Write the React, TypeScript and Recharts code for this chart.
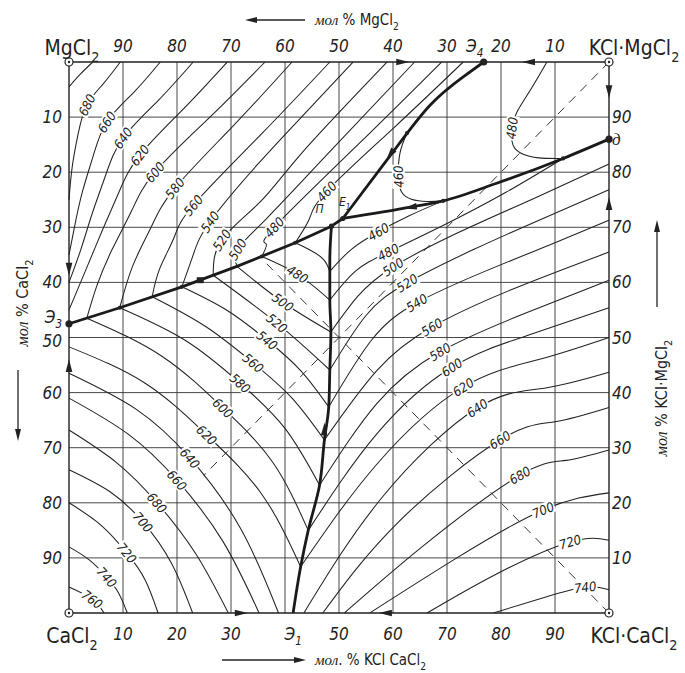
import React from 'react';
import { ComposedChart, Scatter, XAxis, YAxis, ReferenceLine } from 'recharts';

const CHART_W = 685;
const CHART_H = 673;
const AXIS_W = 40;
const AXIS_H = 30;
const MARGIN = { top: 32, right: 36, bottom: 30, left: 29 };
const PLOT_W = CHART_W - MARGIN.left - MARGIN.right - 2 * AXIS_W;
const PLOT_H = CHART_H - MARGIN.top - MARGIN.bottom - 2 * AXIS_H;
const KX = PLOT_W / 100;
const KY = PLOT_H / 100;
const FONT = "'DejaVu Sans Condensed', 'Liberation Sans Narrow', sans-serif";
const SERIF_IT = "'Liberation Serif', 'DejaVu Serif', serif";
const INK = '#222';

// ---------- axes ----------
const GRID_VALUES = [10, 20, 30, 40, 50, 60, 70, 80, 90];
const BOTTOM_TICKS = [10, 20, 30, 41.5, 50, 60, 70, 80, 90];
const BOTTOM_LABELS = ['10', '20', '30', 'Э1', '50', '60', '70', '80', '90'];
const TOP_TICKS = [10, 20, 30, 40, 50, 60, 70, 76.8, 80, 90];
const TOP_LABELS = ['90', '80', '70', '60', '50', '40', '30', 'Э4', '20', '10'];
const LEFT_TICKS = [10, 20, 30, 40, 47.5, 50, 60, 70, 80, 90];
const LEFT_LABELS = ['10', '20', '30', '40', 'Э3', '50', '60', '70', '80', '90'];
const RIGHT_TICKS = [10, 14, 20, 30, 40, 50, 60, 70, 80, 90];
const RIGHT_LABELS = ['90', 'д', '80', '70', '60', '50', '40', '30', '20', '10'];

// ---------- isotherms (x = mol % KCl·CaCl2 from left, y = mol % CaCl2 from top) ----------
type Iso = { t: number; label: number; pts: number[][] };

const ISO_MGCL2: Iso[] = [
  { t: 700, label: -1, pts: [[4.4, 0], [2.1, 2.2], [0, 4.5]] },
  { t: 680, label: 2, pts: [[9.5, 0], [6.3, 4], [3.3, 7.8], [1.7, 13], [0.6, 19], [0, 25]] },
  { t: 660, label: 2, pts: [[16.9, 0], [12, 5.5], [7, 10.9], [4.5, 17], [2.5, 23.5], [1, 30], [0, 35]] },
  { t: 640, label: 2, pts: [[23, 0], [16.5, 7], [10, 13.8], [6.8, 20.5], [4.3, 27.5], [2.2, 34], [0, 40]] },
  { t: 620, label: 2, pts: [[29.3, 0], [21.2, 8.5], [13.1, 16.9], [9.3, 23.5], [6.2, 30.5], [3, 38], [0, 45]] },
  { t: 600, label: 2, pts: [[36.3, 0], [26.1, 10], [15.9, 20], [11.6, 27], [8, 34], [5.2, 40.5], [3.3, 46.5]] },
  { t: 580, label: 2, pts: [[41.3, 0], [30.5, 11.5], [19.6, 22.9], [15.2, 30], [11.8, 37], [9.4, 44.6]] },
  { t: 560, label: 2, pts: [[48.3, 0], [35.7, 13], [23, 26], [19.4, 32], [16.8, 37.5], [15.4, 42.6]] },
  { t: 540, label: 3, pts: [[52.6, 0], [44, 9], [35, 18.5], [26.1, 29], [23, 35], [20.9, 40.8]] },
  { t: 520, label: 3, pts: [[58.9, 0], [43.3, 16.3], [35.4, 25.4], [28.3, 32.3], [26.7, 38.7]] },
  { t: 500, label: 3, pts: [[64, 0], [47.6, 17], [36.5, 28.5], [31.2, 34], [31.1, 37.1]] },
  { t: 480, label: 2, pts: [[69, 0], [53.5, 15], [38, 30], [36.5, 33], [35.7, 35.3]] },
  { t: 460, label: 2, pts: [[73, 0], [60.3, 11.8], [47.7, 23.5], [44.5, 28.5], [41.9, 32.8]] },
];

const ISO_CACL2: Iso[] = [
  { t: 460, label: -1, pts: [[41.9, 32.8], [44.8, 34.2], [47.2, 35.9], [48.3, 38]] },
  { t: 480, label: 1, pts: [[35.7, 35.3], [42.3, 38.5], [48.3, 43.2]] },
  { t: 500, label: 1, pts: [[31.1, 37.1], [39.6, 43.6], [48.5, 49]] },
  { t: 520, label: 1, pts: [[26.7, 38.7], [38.5, 47.4], [48.3, 55.9]] },
  { t: 540, label: 2, pts: [[20.9, 40.8], [29.3, 45.1], [36.7, 50.5], [42.9, 56], [48.1, 62.6]] },
  { t: 560, label: 2, pts: [[15.4, 42.6], [25.3, 48], [34.1, 54.6], [41.3, 61], [47.3, 68.6]] },
  { t: 580, label: 2, pts: [[9.4, 44.6], [21.5, 50.5], [31.7, 58.3], [40, 66.5], [46.4, 76.8]] },
  { t: 600, label: 2, pts: [[3.3, 46.5], [17.2, 53.4], [28.5, 62.8], [37.7, 72.6], [44.3, 85]] },
  { t: 620, label: 2, pts: [[0, 51.7], [14.1, 58.3], [25.5, 67.7], [35.6, 78.3], [42.9, 91.6]] },
  { t: 640, label: 2, pts: [[0, 56.5], [12.4, 63], [22.4, 71.9], [31.8, 84.7], [38.8, 100]] },
  { t: 660, label: 2, pts: [[0, 61], [10.9, 67.5], [20, 75.9], [28.5, 87], [35.2, 100]] },
  { t: 680, label: 2, pts: [[0, 66.8], [8.8, 72.7], [16.3, 80], [23.5, 89.3], [29.5, 100]] },
  { t: 700, label: 2, pts: [[0, 74], [7.6, 78], [13.7, 83.5], [19, 91], [22.9, 100]] },
  { t: 720, label: 2, pts: [[0, 80], [5.85, 84], [10.7, 89.1], [14.1, 94], [16.5, 100]] },
  { t: 740, label: 2, pts: [[0, 88], [3.8, 90.4], [7, 93.5], [9.2, 96.4], [10.8, 100]] },
  { t: 760, label: 1, pts: [[0, 95.3], [4.3, 97.5], [6.5, 100]] },
];

const ISO_KCACL3: Iso[] = [
  { t: 460, label: 2, pts: [[48.3, 38], [52.3, 34], [57.3, 30.8], [63, 27.9], [69.3, 25.2]] },
  { t: 480, label: 2, pts: [[48.3, 43.2], [53, 38], [59.1, 34.5], [70, 29.3], [81, 23.6], [91.5, 17.5]] },
  { t: 500, label: 2, pts: [[48.5, 49], [53.5, 42.5], [60, 37.2], [72, 31], [86, 24.8], [100, 18.5]] },
  { t: 520, label: 2, pts: [[48.3, 55.9], [55, 46], [62.6, 40.1], [75, 34], [88, 28.3], [100, 23.2]] },
  { t: 540, label: 2, pts: [[48.1, 62.6], [56, 50.5], [64.4, 43.7], [77, 38], [89, 33.2], [100, 28.7]] },
  { t: 560, label: 2, pts: [[47.3, 68.6], [57, 56], [67.2, 48.1], [82, 41.3], [100, 34.5]] },
  { t: 580, label: 2, pts: [[46.4, 76.8], [57, 62], [68.7, 52.6], [84, 45.8], [100, 39.6]] },
  { t: 600, label: 2, pts: [[44.3, 85], [57, 67.5], [70.9, 55.4], [85, 49.6], [100, 44.6]] },
  { t: 620, label: 2, pts: [[42.9, 91.6], [57, 73], [73, 59], [87, 54], [100, 50]] },
  { t: 640, label: 2, pts: [[43.5, 100], [58, 79], [75.6, 62.8], [88, 59.2], [100, 56.3]] },
  { t: 660, label: 2, pts: [[47, 100], [61, 83.5], [79.8, 68.6], [90, 65.3], [100, 62.7]] },
  { t: 680, label: 2, pts: [[51, 100], [66, 87.5], [83.5, 75], [92, 72.3], [100, 70.4]] },
  { t: 700, label: 2, pts: [[55.7, 100], [71, 90.5], [87.8, 81.3], [100, 78.2]] },
  { t: 720, label: 2, pts: [[66.3, 100], [79, 93], [92.8, 87.1], [100, 86.8]] },
  { t: 740, label: 2, pts: [[78.6, 100], [88, 97.2], [95.6, 95.3], [100, 95.8]] },
];

const ISO_KMGCL3: Iso[] = [
  { t: 460, label: 2, pts: [[62.6, 12.9], [61.3, 16.5], [61, 20.8], [61.6, 23.6], [63.4, 24.9], [66.3, 25.3], [69.3, 25.2]] },
  { t: 480, label: 3, pts: [[88.5, 0], [85.5, 5], [83, 9], [82, 12], [82.2, 15], [83.8, 16.6], [87, 17.4], [91.5, 17.5]] },
];

// ---------- boundary (bold) lines ----------
const LINE_E3_P = [[0, 47.5], [9.4, 44.6], [20.9, 40.8], [31.1, 37.1], [41.9, 32.8], [48.6, 29.8]];
const LINE_P_E1 = [[48.6, 29.8], [50.7, 28.4]];
const LINE_E1_E4 = [[50.7, 28.4], [59.8, 16.6], [66.9, 7.8], [73, 2.7], [76.8, 0]];
const LINE_E1_D = [[50.7, 28.4], [63.5, 26.3], [69.3, 25.2], [79.2, 22], [91.5, 17.5], [100, 14]];
const LINE_P_E1B = [[48.6, 29.8], [48.3, 36], [48.3, 43.2], [48.5, 49], [48.3, 55.9], [48.1, 62.6], [47.3, 68.6], [46.4, 76.8], [44.3, 85], [42.9, 91.6], [41.5, 100]];
const DASH_ANTI = [[100, 0], [25, 75]];
const DASH_DIAG = [[100, 100], [36.5, 36.5]];
const FRAME = [[0, 0], [100, 0], [100, 100], [0, 100], [0, 0]];

// ---------- points ----------
const EUTECTIC_POINTS = [{ x: 0, y: 47.5 }, { x: 76.8, y: 0 }, { x: 100, y: 14 }];
const INVARIANT_POINTS = [{ x: 48.6, y: 29.8, name: 'П' }, { x: 50.7, y: 28.4, name: 'E1' }];
const JUNCTIONS = [{ x: 9.4, y: 44.6 }, { x: 20.9, y: 40.8 }, { x: 35.7, y: 35.3 }, { x: 41.9, y: 32.8 }, { x: 69.3, y: 25.2 }, { x: 91.5, y: 17.5 }, { x: 62.6, y: 12.9 }];
const SQUARE_POINTS = [{ x: 24.3, y: 39.6 }];
const CORNERS = [
  { x: 0, y: 0, name: 'MgCl2' },
  { x: 100, y: 0, name: 'KCl·MgCl2' },
  { x: 0, y: 100, name: 'CaCl2' },
  { x: 100, y: 100, name: 'KCl·CaCl2' },
];
const ARROWS = [
  { x: 61.9, y: 0, tx: 76.8, ty: 0 },
  { x: 85, y: 0, tx: 76.8, ty: 0 },
  { x: 0, y: 37.7, tx: 0, ty: 47.5 },
  { x: 0, y: 55, tx: 0, ty: 47.5 },
  { x: 100, y: 5.5, tx: 100, ty: 14 },
  { x: 100, y: 25.6, tx: 100, ty: 14 },
  { x: 32, y: 100, tx: 41.5, ty: 100 },
  { x: 58.5, y: 100, tx: 41.5, ty: 100 },
  { x: 59.4, y: 16.9, tx: 50.7, ty: 28.4 },
  { x: 63.1, y: 26.4, tx: 50.7, ty: 28.4 },
  { x: 47.3, y: 66.5, tx: 48.3, ty: 36 },
];

// ---------- helpers ----------
const toXY = (pts: number[][]) => pts.map(([x, y]) => ({ x, y }));

const ALL_ISO = [...ISO_MGCL2, ...ISO_CACL2, ...ISO_KCACL3, ...ISO_KMGCL3];
const LABEL_DATA = ALL_ISO.filter((i) => i.label >= 0).map((i) => {
  const p = i.pts[i.label];
  const a = i.pts[Math.max(0, i.label - 1)];
  const b = i.pts[Math.min(i.pts.length - 1, i.label + 1)];
  let ang = (Math.atan2((b[1] - a[1]) * KY, (b[0] - a[0]) * KX) * 180) / Math.PI;
  if (ang > 80) ang -= 180;
  if (ang < -100) ang += 180;
  return { x: p[0], y: p[1], t: i.t, angle: ang };
});
const ARROW_DATA = ARROWS.map((a) => ({
  x: a.x,
  y: a.y,
  angle: (Math.atan2((a.ty - a.y) * KY, (a.tx - a.x) * KX) * 180) / Math.PI,
}));

function chem(s: string, fs: number) {
  const parts = s.split(/(\d+)/).filter((p) => p !== '');
  const out: any[] = [];
  let low = false;
  parts.forEach((p, i) => {
    if (/^\d+$/.test(p) && i > 0) {
      out.push(<tspan key={i} fontSize={fs * 0.68} dy={fs * 0.32}>{p}</tspan>);
      low = true;
    } else {
      out.push(<tspan key={i} dy={low ? -fs * 0.32 : 0}>{p}</tspan>);
      low = false;
    }
  });
  return out;
}

const NoShape = () => <g />;

const IsoLabelShape = (props: any) => {
  const { cx, cy } = props;
  const d = props.payload || props;
  const s = String(d.t);
  const w = s.length * 7.1 + 3;
  return (
    <g transform={`translate(${cx},${cy}) rotate(${d.angle})`}>
      <rect x={-w / 2} y={-6.5} width={w} height={13} fill="#fff" />
      <text x={0} y={4.8} textAnchor="middle" fontFamily={FONT} fontStyle="italic" fontSize={13} fill={INK}>{s}</text>
    </g>
  );
};

const ArrowShape = (props: any) => {
  const { cx, cy } = props;
  const d = props.payload || props;
  return (
    <g transform={`translate(${cx},${cy}) rotate(${d.angle})`}>
      <path d="M6,0 L-7,-3.3 L-7,3.3 Z" fill={INK} />
    </g>
  );
};

const BigDot = (props: any) => <circle cx={props.cx} cy={props.cy} r={3.6} fill={INK} />;
const SmallDot = (props: any) => <circle cx={props.cx} cy={props.cy} r={2.1} fill={INK} />;
const SquareShape = (props: any) => <rect x={props.cx - 3.5} y={props.cy - 3} width={7} height={6} fill={INK} />;

const InvariantShape = (props: any) => {
  const { cx, cy } = props;
  const d = props.payload || props;
  const off = d.name === 'П' ? [-12, -13] : [2, -12];
  return (
    <g>
      <circle cx={cx} cy={cy} r={2.6} fill={INK} />
      <text x={cx + off[0]} y={cy + off[1]} fontFamily={FONT} fontStyle="italic" fontSize={12} fill={INK} textAnchor="middle">
        {chem(d.name, 12)}
      </text>
    </g>
  );
};

const CornerShape = (props: any) => {
  const { cx, cy } = props;
  const d = props.payload || props;
  const right = d.x > 50;
  const bottom = d.y > 50;
  const tx = cx + (right ? 25 : 3);
  const ty = cy + (bottom ? 30 : -7);
  return (
    <g>
      <circle cx={cx} cy={cy} r={4} fill="#fff" stroke={INK} strokeWidth={1.2} />
      <circle cx={cx} cy={cy} r={1.2} fill={INK} />
      <text x={tx} y={ty} textAnchor="middle" fontFamily={FONT} fontSize={21} fill={INK}>{chem(d.name, 21)}</text>
    </g>
  );
};

const makeTick = (ticks: number[], labels: string[], side: string) => (props: any) => {
  const { x, y, payload } = props;
  const idx = ticks.findIndex((v) => Math.abs(v - payload.value) < 1e-6);
  const s = idx >= 0 ? labels[idx] : String(payload.value);
  let tx = x;
  let ty = y;
  let anchor = 'middle';
  if (side === 'b') ty = y + 19;
  if (side === 't') {
    ty = y - 2;
    if (s.startsWith('Э')) tx = x - 9;
  }
  if (side === 'l') {
    tx = x + 1;
    ty = y + 6;
    anchor = 'end';
    if (s.startsWith('Э')) ty = y - 1;
    if (s === '50') ty = y + 9;
  }
  if (side === 'r') {
    tx = x - 5;
    ty = y + 6;
    anchor = 'start';
  }
  const family = /^\d/.test(s) || s.startsWith('Э') ? FONT : SERIF_IT;
  return (
    <text x={tx} y={ty} textAnchor={anchor} fontFamily={family} fontStyle="italic" fontSize={17} fill={INK}>
      {chem(s, 17)}
    </text>
  );
};

const titleText = (rest: string, fs: number) => [
  <tspan key="m" fontStyle="italic" fontFamily={SERIF_IT} fontSize={fs}>{'мол'}</tspan>,
  ...chem(rest, fs),
];

const TopTitle = (props: any) => {
  const { x, y } = props.viewBox;
  const ay = y - 12;
  return (
    <g>
      <line x1={x + 182} y1={ay} x2={x + 236} y2={ay} stroke={INK} strokeWidth={1.3} />
      <path d={`M${x + 176},${ay} l12,-3 l0,6 z`} fill={INK} />
      <text x={x + 246} y={ay + 5} fontFamily={FONT} fontSize={15} fill={INK}>{titleText(' % MgCl2', 15)}</text>
    </g>
  );
};

const BottomTitle = (props: any) => {
  const { x, y } = props.viewBox;
  const ay = y + 47;
  return (
    <g>
      <line x1={x + 153} y1={ay} x2={x + 230} y2={ay} stroke={INK} strokeWidth={1.3} />
      <path d={`M${x + 237},${ay} l-12,-3 l0,6 z`} fill={INK} />
      <text x={x + 246} y={ay + 5} fontFamily={FONT} fontSize={15} fill={INK}>{titleText('. % KCl CaCl2', 15)}</text>
    </g>
  );
};

const LeftTitle = (props: any) => {
  const { x, y } = props.viewBox;
  const ax = x - 11;
  return (
    <g>
      <text transform={`translate(${x - 1},${y + 241}) rotate(-90)`} textAnchor="middle" fontFamily={FONT} fontSize={16} fill={INK}>
        {titleText(' % CaCl2', 16)}
      </text>
      <line x1={ax} y1={y + 308} x2={ax} y2={y + 372} stroke={INK} strokeWidth={1.3} />
      <path d={`M${ax},${y + 379} l-3,-12 l6,0 z`} fill={INK} />
    </g>
  );
};

const RightTitle = (props: any) => {
  const { x, y } = props.viewBox;
  const ax = x + 48;
  return (
    <g>
      <text transform={`translate(${x + 58},${y + 336}) rotate(-90)`} textAnchor="middle" fontFamily={FONT} fontSize={16} fill={INK}>
        {titleText(' % KCl·MgCl2', 16)}
      </text>
      <line x1={ax} y1={y + 245} x2={ax} y2={y + 165} stroke={INK} strokeWidth={1.3} />
      <path d={`M${ax},${y + 158} l-3,12 l6,0 z`} fill={INK} />
    </g>
  );
};

const lineSeries = (key: string, pts: number[][], stroke: any, joint: string) => (
  <Scatter
    key={key}
    data={toXY(pts)}
    xAxisId="b"
    yAxisId="l"
    line={stroke}
    lineJointType={joint as any}
    shape={NoShape}
    isAnimationActive={false}
  />
);

const THIN = { stroke: INK, strokeWidth: 1.05, fill: 'none' };
const BOLD = { stroke: '#1a1a1a', strokeWidth: 2.8, fill: 'none' };
const DASH = { stroke: '#333', strokeWidth: 1, strokeDasharray: '9 7', fill: 'none' };
const FRAME_STYLE = { stroke: INK, strokeWidth: 1.4, fill: 'none' };

export default function App() {
  return (
    <div style={{ position: 'absolute', left: 0, top: 0, width: CHART_W, height: CHART_H, background: '#fff' }}>
      <ComposedChart width={CHART_W} height={CHART_H} margin={MARGIN}>
        <XAxis
          xAxisId="b"
          dataKey="x"
          type="number"
          domain={[0, 100]}
          ticks={BOTTOM_TICKS}
          interval={0}
          orientation="bottom"
          height={AXIS_H}
          axisLine={false}
          tickLine={false}
          tick={makeTick(BOTTOM_TICKS, BOTTOM_LABELS, 'b')}
          label={BottomTitle}
        />
        <XAxis
          xAxisId="t"
          dataKey="x"
          type="number"
          domain={[0, 100]}
          ticks={TOP_TICKS}
          interval={0}
          orientation="top"
          height={AXIS_H}
          axisLine={false}
          tickLine={false}
          tick={makeTick(TOP_TICKS, TOP_LABELS, 't')}
          label={TopTitle}
        />
        <YAxis
          yAxisId="l"
          dataKey="y"
          type="number"
          domain={[0, 100]}
          reversed
          ticks={LEFT_TICKS}
          interval={0}
          orientation="left"
          width={AXIS_W}
          axisLine={false}
          tickLine={false}
          tick={makeTick(LEFT_TICKS, LEFT_LABELS, 'l')}
          label={LeftTitle}
        />
        <YAxis
          yAxisId="r"
          dataKey="y"
          type="number"
          domain={[0, 100]}
          reversed
          ticks={RIGHT_TICKS}
          interval={0}
          orientation="right"
          width={AXIS_W}
          axisLine={false}
          tickLine={false}
          tick={makeTick(RIGHT_TICKS, RIGHT_LABELS, 'r')}
          label={RightTitle}
        />
        <Scatter data={toXY(FRAME)} xAxisId="t" yAxisId="r" shape={NoShape} isAnimationActive={false} />
        {GRID_VALUES.map((v) => (
          <ReferenceLine key={'gx' + v} x={v} xAxisId="b" yAxisId="l" stroke="#333" strokeWidth={0.9} />
        ))}
        {GRID_VALUES.map((v) => (
          <ReferenceLine key={'gy' + v} y={v} xAxisId="b" yAxisId="l" stroke="#333" strokeWidth={0.9} />
        ))}
        {lineSeries('dash-anti', DASH_ANTI, DASH, 'linear')}
        {lineSeries('dash-diag', DASH_DIAG, DASH, 'linear')}
        {ALL_ISO.map((iso, i) => lineSeries('iso' + i, iso.pts, THIN, 'natural'))}
        <Scatter data={LABEL_DATA} xAxisId="b" yAxisId="l" shape={IsoLabelShape} isAnimationActive={false} />
        {lineSeries('frame', FRAME, FRAME_STYLE, 'linear')}
        {lineSeries('e3p', LINE_E3_P, BOLD, 'linear')}
        {lineSeries('pe1', LINE_P_E1, BOLD, 'linear')}
        {lineSeries('e1e4', LINE_E1_E4, BOLD, 'natural')}
        {lineSeries('e1d', LINE_E1_D, BOLD, 'monotoneX')}
        {lineSeries('pe1b', LINE_P_E1B, BOLD, 'monotoneY')}
        <Scatter data={ARROW_DATA} xAxisId="b" yAxisId="l" shape={ArrowShape} isAnimationActive={false} />
        <Scatter data={JUNCTIONS} xAxisId="b" yAxisId="l" shape={SmallDot} isAnimationActive={false} />
        <Scatter data={SQUARE_POINTS} xAxisId="b" yAxisId="l" shape={SquareShape} isAnimationActive={false} />
        <Scatter data={EUTECTIC_POINTS} xAxisId="b" yAxisId="l" shape={BigDot} isAnimationActive={false} />
        <Scatter data={INVARIANT_POINTS} xAxisId="b" yAxisId="l" shape={InvariantShape} isAnimationActive={false} />
        <Scatter data={CORNERS} xAxisId="b" yAxisId="l" shape={CornerShape} isAnimationActive={false} />
      </ComposedChart>
    </div>
  );
}
